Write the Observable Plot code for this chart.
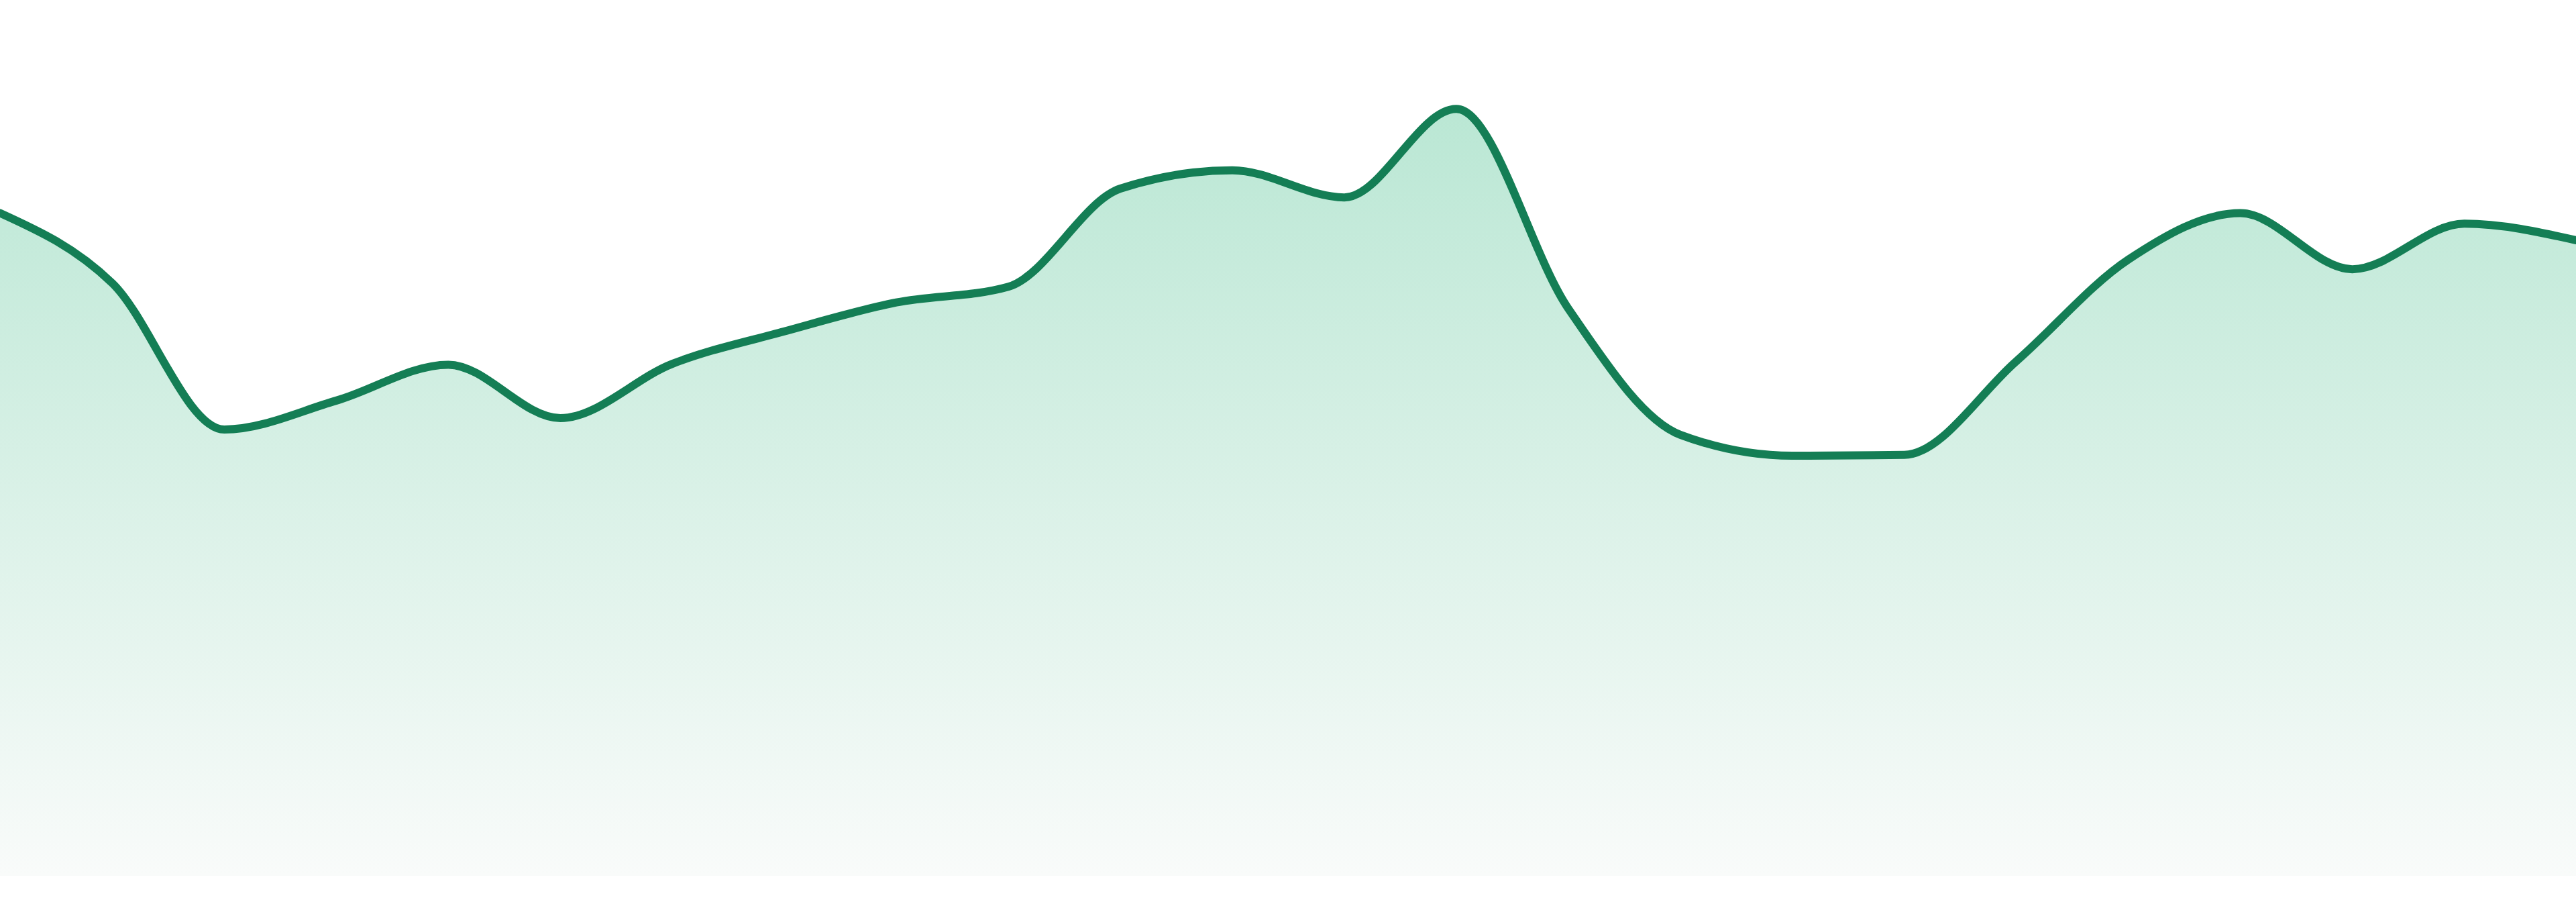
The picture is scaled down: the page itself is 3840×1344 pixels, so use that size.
<!DOCTYPE html>
<html>
<head>
<meta charset="utf-8">
<script src="https://cdn.jsdelivr.net/npm/d3@7"></script>
<script src="https://cdn.jsdelivr.net/npm/@observablehq/plot@0.6"></script>
<style>
  html, body { margin: 0; padding: 0; background: #ffffff; }
  #chart svg { display: block; }
</style>
</head>
<body>
<div id="chart"></div>
<script>
// Series values (index 0..23)
const steps = d3.range(24);
const values = [75.7, 67.7, 51.0, 54.3, 58.4, 52.3, 58.5, 62.2, 65.5, 67.3, 78.5, 80.6,
                77.5, 87.6, 64.8, 50.4, 48.0, 48.1, 58.8, 70.4, 75.7, 69.3, 74.5, 72.6];

const data = steps.map((s, i) => ({step: s, value: values[i]}));

const lineColor = "#147e55";
const gradTop = "#bae7d4";
const gradBottom = "#f9fbfa";

const chart = Plot.plot({
  width: 3840,
  height: 1344,
  marginLeft: 0,
  marginRight: 0,
  marginTop: 0,
  marginBottom: 39,
  x: {domain: [0, 23], axis: null},
  y: {domain: [0, 100], axis: null},
  marks: [
    Plot.areaY(data, {x: "step", y: "value", curve: "monotone-x", fill: "url(#areaGrad)"}),
    Plot.lineY(data, {x: "step", y: "value", curve: "monotone-x", stroke: lineColor, strokeWidth: 12})
  ]
});

const svg = d3.select(chart);
const defs = svg.insert("defs", ":first-child");
const grad = defs.append("linearGradient")
  .attr("id", "areaGrad")
  .attr("x1", 0).attr("y1", 0).attr("x2", 0).attr("y2", 1);
grad.append("stop").attr("offset", "0%").attr("stop-color", gradTop);
grad.append("stop").attr("offset", "100%").attr("stop-color", gradBottom);

document.getElementById("chart").appendChild(chart);
</script>
</body>
</html>
